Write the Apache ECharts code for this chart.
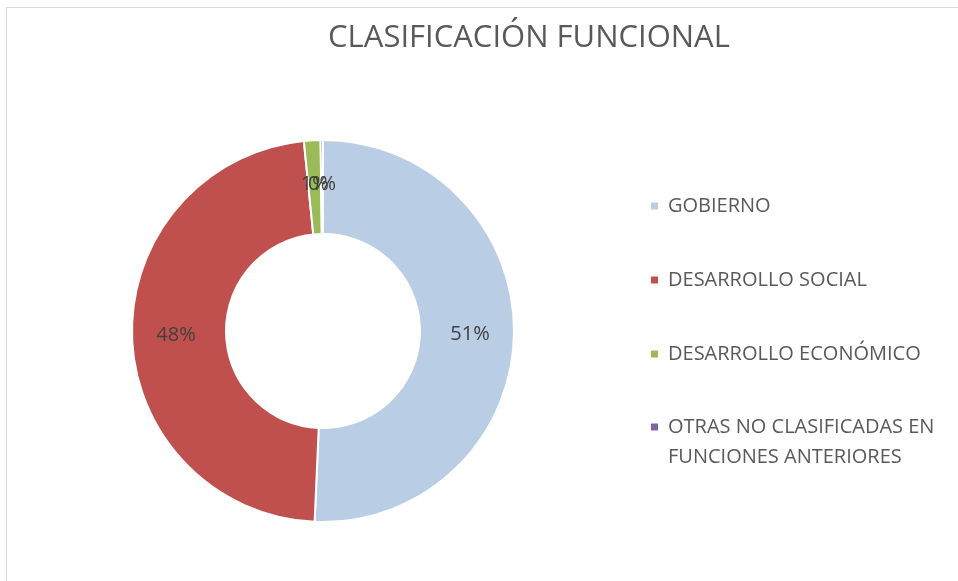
<!DOCTYPE html>
<html>
<head>
<meta charset="utf-8">
<script src="https://cdn.jsdelivr.net/npm/echarts@6/dist/echarts.min.js"></script>
<style>
html,body{margin:0;padding:0;background:#fff;}
#chart{width:958px;height:581px;}
</style>
</head>
<body>
<div id="chart"></div>
<script>
const titleText = 'CLASIFICACIÓN FUNCIONAL';
const categories = ['GOBIERNO', 'DESARROLLO SOCIAL', 'DESARROLLO ECONÓMICO', 'OTRAS NO CLASIFICADAS EN FUNCIONES ANTERIORES'];
const values = [50.7, 47.7, 1.4, 0.2];
const colors = ['#B9CDE5', '#C0504D', '#9BBB59', '#8064A2'];

const font = '"Open Sans", sans-serif';
const chart = echarts.init(document.getElementById('chart'));
chart.setOption({
  animation: false,
  backgroundColor: '#fff',
  title: {
    text: titleText,
    left: 524,
    top: 18,
    textAlign: 'center',
    textStyle: { fontFamily: font, fontSize: 31, fontWeight: 'normal', color: '#595959' }
  },
  graphic: [
    { type: 'line', shape: { x1: 6.5, y1: 7, x2: 6.5, y2: 581 }, style: { stroke: '#d9d9d9', lineWidth: 1 } },
    { type: 'line', shape: { x1: 6, y1: 7.5, x2: 958, y2: 7.5 }, style: { stroke: '#d9d9d9', lineWidth: 1 } }
  ],
  legend: [
    {
      orient: 'vertical', left: 649, top: 191, padding: 0,
      itemWidth: 9, itemHeight: 9, itemGap: 44, icon: 'rect', selectedMode: false,
      data: categories.slice(0, 3),
      textStyle: { fontFamily: font, fontSize: 20, lineHeight: 30, color: '#595959', padding: [0, 0, 0, 4] }
    },
    {
      orient: 'vertical', left: 649, top: 382, padding: 0,
      itemWidth: 9, itemHeight: 9, icon: 'rect', selectedMode: false,
      data: categories.slice(3),
      formatter: function () { return ' \nOTRAS NO CLASIFICADAS EN\nFUNCIONES ANTERIORES'; },
      textStyle: { fontFamily: font, fontSize: 20, lineHeight: 30, color: '#595959', padding: [0, 0, 0, 4] }
    }
  ],
  series: [{
    type: 'pie',
    center: [323, 331],
    radius: [97, 191],
    startAngle: 90,
    clockwise: true,
    avoidLabelOverlap: false,
    minShowLabelAngle: 0,
    percentPrecision: 0,
    itemStyle: { borderColor: '#fff', borderWidth: 2 },
    label: { show: true, position: 'inside', formatter: '{d}%', fontFamily: font, fontSize: 20, color: '#404040' },
    labelLayout: { hideOverlap: false },
    labelLine: { show: false },
    emphasis: { disabled: true },
    data: categories.map((c, i) => ({ name: c, value: values[i], itemStyle: { color: colors[i] } }))
  }]
});
</script>
</body>
</html>
